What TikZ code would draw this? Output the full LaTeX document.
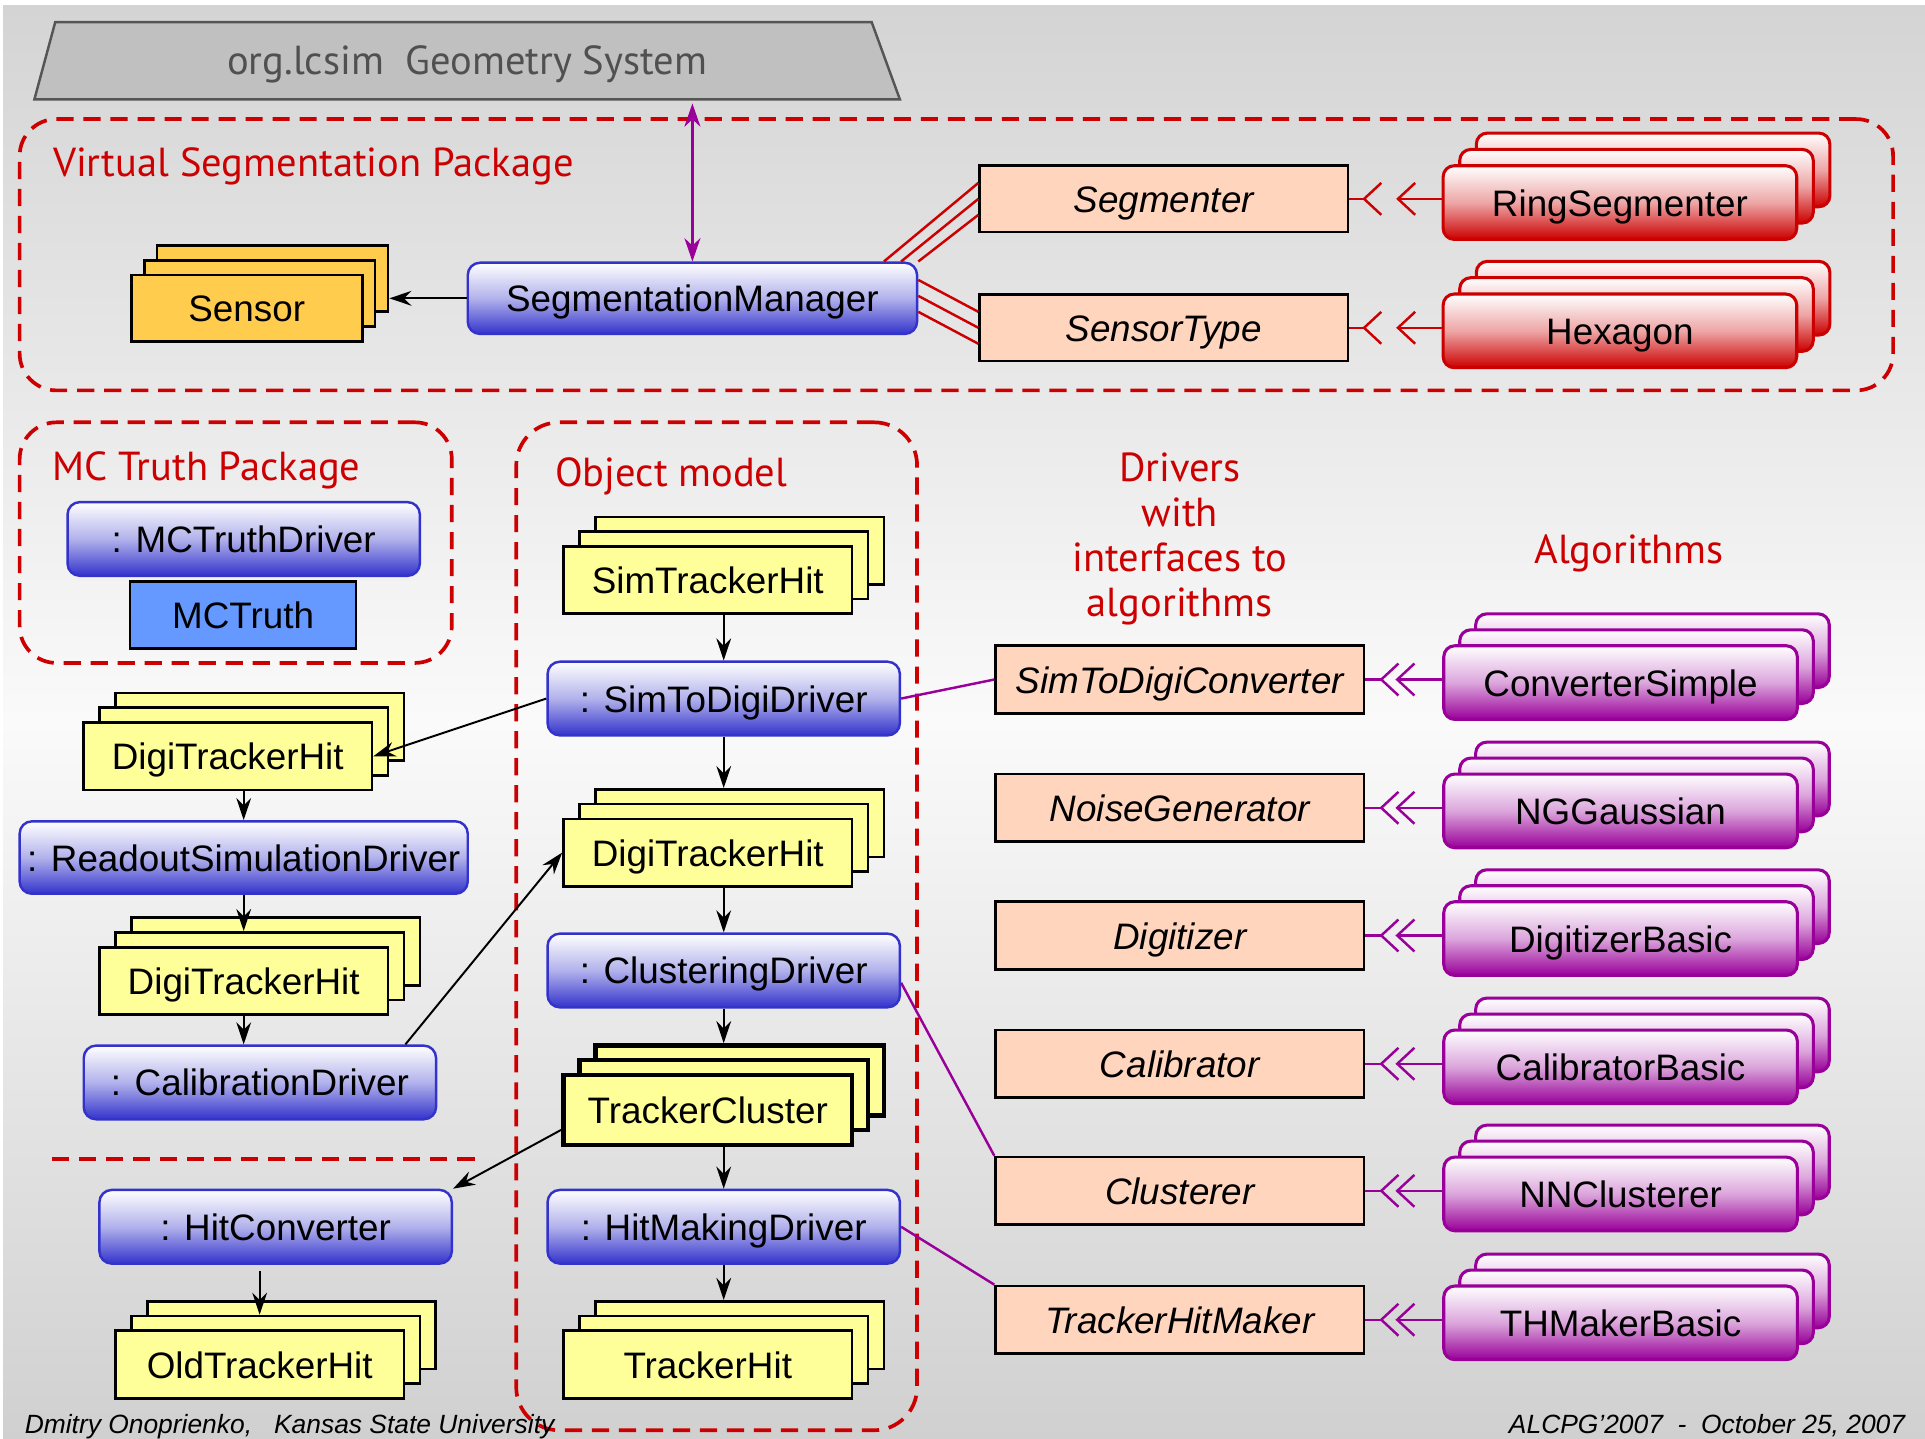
\documentclass[tikz,border=0pt]{standalone}
\usepackage{fontspec}
\setmainfont{Liberation Sans}
\newfontfamily\comic{PT Sans}
\usetikzlibrary{arrows.meta,calc}
\definecolor{redc}{RGB}{204,0,0}
\definecolor{bluec}{RGB}{51,51,204}
\definecolor{purc}{RGB}{153,0,153}
\definecolor{ylw}{RGB}{255,255,153}
\definecolor{sens}{RGB}{255,204,77}
\definecolor{peach}{RGB}{255,213,190}
\definecolor{mcblue}{RGB}{102,153,255}
\definecolor{trapf}{RGB}{192,192,192}
\definecolor{trapd}{RGB}{85,85,85}
\definecolor{titleg}{RGB}{80,80,80}
\definecolor{bgtop}{RGB}{212,212,212}
\definecolor{bgmid}{RGB}{250,250,250}
\definecolor{bgbot}{RGB}{208,208,208}
\newcommand{\stk}[7]{%
  \node[#2] (#1-3) at ({#3+2*(#5)},{#4-2*(#6)}) {};
  \node[#2] (#1-2) at ({#3+(#5)},{#4-(#6)}) {};
  \node[#2] (#1) at (#3,#4) {#7};
}
\newcommand{\dchev}[5]{%
  \draw[#1] (#2.east) -- ($(#2.east)+(#4,0)$);
  \draw[#1] (#3.west |- #2.east) -- ($(#2.east)+(#5,0)$);
  \draw[#1] ($(#2.east)+(#4+14,-13)$) -- ($(#2.east)+(#4,0)$) -- ($(#2.east)+(#4+14,13)$);
  \draw[#1] ($(#2.east)+(#5+14,-13)$) -- ($(#2.east)+(#5,0)$) -- ($(#2.east)+(#5+14,13)$);
}
\begin{document}
\begin{tikzpicture}[x=1pt,y=-1pt,
  lbl/.style={font=\fontsize{30}{36}\selectfont, text height=22pt, text depth=0pt},
  redlbl/.style={font=\comic\fontsize{33}{36.5}\selectfont, text=redc, inner sep=0pt},
  ybox/.style={draw=black, line width=2.2pt, fill=ylw, minimum width=235, minimum height=55, inner sep=0pt, lbl},
  sbox/.style={ybox, fill=sens, minimum width=188, minimum height=54},
  tcbox/.style={ybox, line width=3.5pt, minimum height=57},
  bbox/.style={rounded corners=10pt, draw=bluec, line width=2pt, top color=white, bottom color=bluec, middle color=bluec!38!white, minimum width=287, minimum height=60, inner sep=0pt, lbl},
  rbox/.style={rounded corners=9pt, draw=redc, line width=2.5pt, top color=white, bottom color=redc, middle color=redc!35!white, minimum width=288, minimum height=60, inner sep=0pt, lbl},
  pbox/.style={rounded corners=9pt, draw=purc, line width=2.5pt, top color=white, bottom color=purc, middle color=purc!35!white, minimum width=288, minimum height=60, inner sep=0pt, lbl},
  ifbox/.style={draw=black, line width=2.2pt, fill=peach, minimum width=300, minimum height=55, inner sep=0pt, font=\fontsize{30}{36}\selectfont\itshape, text height=22pt, text depth=0pt},
  pkg/.style={draw=redc, line width=3pt, dash pattern=on 14pt off 8pt, rounded corners=30pt, inner sep=0pt},
  arr/.style={draw=black, line width=1.6pt, -{Stealth[length=18pt, width=12pt, inset=6pt]}},
  redline/.style={draw=redc, line width=2pt},
  pline/.style={draw=purc, line width=2pt},
  foot/.style={font=\fontsize{21.5}{26}\selectfont\itshape, inner sep=0pt}
]
\useasboundingbox (0,0) rectangle (1568,1172);
\fill[white] (0,0) rectangle (1568,1172);
\shade[top color=bgtop, bottom color=bgbot, middle color=bgmid] (2.5,4.6) rectangle (1568,1172);

% geometry system
\filldraw[fill=trapf, draw=trapd, line width=2pt] (45,18) -- (710,18) -- (733,81) -- (28,81) -- cycle;
\node[minimum width=705, minimum height=63, inner sep=0pt, font=\comic\fontsize{33}{36}\selectfont, text=titleg, text height=22pt, text depth=0pt] (geo) at (380.5,49.5) {org.lcsim\ \ Geometry System};

% virtual segmentation package
\node[pkg, minimum width=1526, minimum height=221] (vsp) at (779,207.5) {};
\node[redlbl, anchor=base west] (vsplbl) at (43,144) {Virtual Segmentation Package};
\node[bbox, minimum width=366, minimum height=58] (sm) at (564,243) {SegmentationManager};
\stk{sensor}{sbox}{201}{251}{10.5}{12}{Sensor}
\draw[arr] (sm.west) -- (sensor-3.east |- sm.west);
\draw[pline, {Stealth[length=19pt, width=13pt, inset=6pt]}-{Stealth[length=19pt, width=13pt, inset=6pt]}, shorten <=3pt] (sm.north |- geo.south) -- (sm.north);

\node[ifbox, minimum height=54] (seg) at (948,162) {Segmenter};
\node[ifbox, minimum height=54] (stype) at (948,267) {SensorType};
\stk{ring}{rbox}{1319.5}{165}{13.5}{13.3}{RingSegmenter}
\stk{hex}{rbox}{1319.5}{269.5}{13.5}{13.3}{Hexagon}

\draw[redline] ($(sm.north east)+(-28,0)$) -- ($(seg.west)+(0,-13)$);
\draw[redline] ($(sm.north east)+(-14,0)$) -- (seg.west);
\draw[redline] ($(sm.north east)+(0,0)$) -- ($(seg.west)+(0,13)$);
\draw[redline] ($(sm.east)+(0,-15)$) -- ($(stype.west)+(0,-13)$);
\draw[redline] ($(sm.east)+(0,-2)$) -- (stype.west);
\draw[redline] ($(sm.east)+(0,11)$) -- ($(stype.west)+(0,13)$);
\dchev{redline}{seg}{ring}{12}{39.6}
\dchev{redline}{stype}{hex}{12}{39.6}

% MC truth package
\node[pkg, minimum width=352, minimum height=196] (mcp) at (192,442) {};
\node[redlbl, anchor=base west] (mcplbl) at (42.5,391) {MC Truth Package};
\node[bbox] (mcd) at (198.5,439) {: MCTruthDriver};
\node[ybox, fill=mcblue, minimum width=184, minimum height=55] (mct) at (198,501) {MCTruth};

% object model
\node[pkg, rounded corners=35pt, minimum width=326.5, minimum height=821] (om) at (583.75,754.5) {};
\node[redlbl, anchor=base west] (omlbl) at (452,396.6) {Object model};
\stk{sth}{ybox}{576.5}{472.5}{13}{12}{SimTrackerHit}
\node[bbox] (std) at (589.5,569) {: SimToDigiDriver};
\stk{dtho}{ybox}{576.5}{694.5}{13}{12}{DigiTrackerHit}
\node[bbox] (cld) at (589.5,790.5) {: ClusteringDriver};
\stk{tc}{tcbox}{576.5}{904}{13}{12}{TrackerCluster}
\node[bbox] (hmd) at (589.5,999.25) {: HitMakingDriver};
\stk{th}{ybox}{576.5}{1111.5}{13}{12}{TrackerHit}
\draw[arr] (std.north |- sth.south) -- (std.north);
\draw[arr] (std.south) -- (std.south |- dtho-3.north);
\draw[arr] (cld.north |- dtho.south) -- (cld.north);
\draw[arr] (cld.south) -- (cld.south |- tc-3.north);
\draw[arr] (hmd.north |- tc.south) -- (hmd.north);
\draw[arr] (hmd.south) -- (hmd.south |- th-3.north);

% left column
\stk{dth1}{ybox}{185.5}{616}{13}{12}{DigiTrackerHit}
\node[bbox, minimum width=365, minimum height=59] (rsd) at (198.5,698.5) {: ReadoutSimulationDriver};
\stk{dth2}{ybox}{198.5}{799}{13}{12}{DigiTrackerHit}
\node[bbox] (cal) at (211.7,881.7) {: CalibrationDriver};
\node[bbox] (hc) at (224.5,999.25) {: HitConverter};
\stk{oth}{ybox}{211.5}{1111.5}{13}{12}{OldTrackerHit}
\draw[arr] (std.west) -- (dth1.east);
\draw[arr] (rsd.north |- dth1.south) -- (rsd.north);
\draw[arr] (rsd.south) -- (rsd.south |- dth2-2.north);
\draw[arr] (dth2.south) -- (dth2.south |- cal.north);
\draw[arr] ($(cal.north east)+(-26,0)$) -- (dtho.west);
\draw[arr] ($(tc.south west)+(0,-14)$) -- (hc.north east);
\draw[arr] ($(oth.north |- hc.south)+(0,5)$) -- (oth.north |- oth-2.north);
\coordinate (sepa) at (42.5,944);
\coordinate (sepb) at (394,944);
\draw[redc, line width=3pt, dash pattern=on 14pt off 8pt] (sepa) -- (sepb);

% drivers and algorithms
\node[redlbl, align=center, anchor=base] (drvlbl) at (961,502) {Drivers\\with\\interfaces to\\algorithms};
\node[redlbl, anchor=base] (alglbl) at (1327,458.8) {Algorithms};
\node[ifbox] (s2d) at (961,553.5) {SimToDigiConverter};
\node[ifbox] (ng) at (961,658) {NoiseGenerator};
\node[ifbox] (dig) at (961,762) {Digitizer};
\node[ifbox] (calr) at (961,866.5) {Calibrator};
\node[ifbox] (clu) at (961,970) {Clusterer};
\node[ifbox] (thm) at (961,1075) {TrackerHitMaker};
\stk{cs}{pbox}{1320}{556}{13}{13}{ConverterSimple}
\stk{ngg}{pbox}{1320}{660.5}{13}{13}{NGGaussian}
\stk{db}{pbox}{1320}{764.5}{13}{13}{DigitizerBasic}
\stk{cb}{pbox}{1320}{869}{13}{13}{CalibratorBasic}
\stk{nnc}{pbox}{1320}{972.5}{13}{13}{NNClusterer}
\stk{thb}{pbox}{1320}{1077.5}{13}{13}{THMakerBasic}
\dchev{pline}{s2d}{cs}{13}{26}
\dchev{pline}{ng}{ngg}{13}{26}
\dchev{pline}{dig}{db}{13}{26}
\dchev{pline}{calr}{cb}{13}{26}
\dchev{pline}{clu}{nnc}{13}{26}
\dchev{pline}{thm}{thb}{13}{26}
\draw[pline] (std.east) -- (s2d.west);
\draw[pline] ($(cld.east)+(0,10)$) -- (clu.north west);
\draw[pline] (hmd.east) -- (thm.north west);

% footer
\node[foot, anchor=base west] (fl) at (20,1168) {Dmitry Onoprienko,\ \ \ Kansas State University};
\node[foot, anchor=base east] (fr) at (1552,1168) {ALCPG’2007\ \ -\ \ October 25, 2007};
\end{tikzpicture}
\end{document}
